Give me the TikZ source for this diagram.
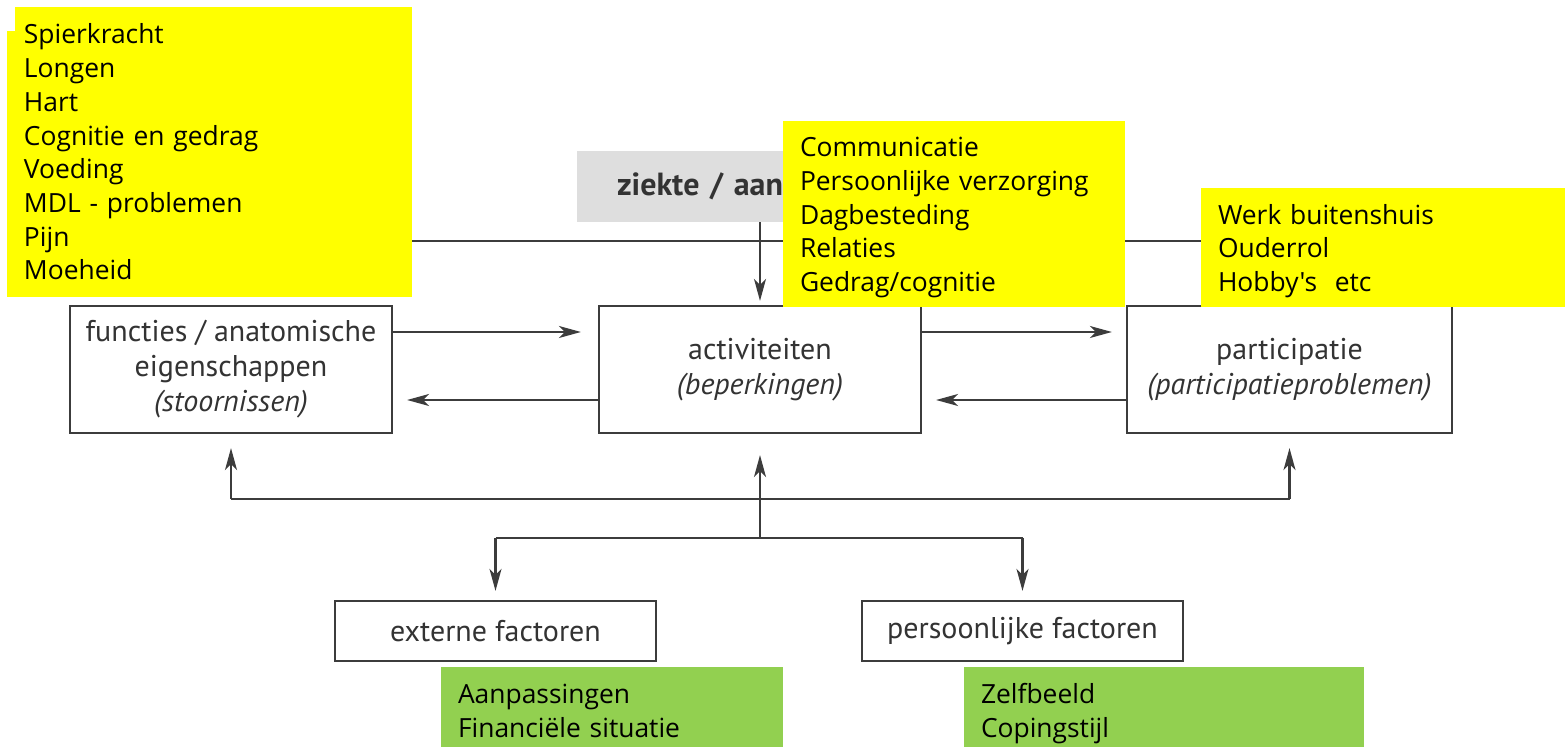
\documentclass[tikz,border=0pt]{standalone}
\usepackage{fontspec}
\setmainfont{Open Sans}
\newfontfamily\notefont{Open Sans}
\newfontfamily\diagfont{PT Sans}
\usetikzlibrary{arrows.meta}
\definecolor{hlyellow}{HTML}{FFFF00}
\definecolor{hlgreen}{HTML}{92D050}
\definecolor{linegray}{HTML}{3C3C3C}
\definecolor{txtgray}{HTML}{333333}
\definecolor{boxgray}{HTML}{DEDEDE}
\newcommand{\toppad}{\rule{0pt}{13.4pt}}
\begin{document}
\begin{tikzpicture}[x=0.5pt,y=-0.5pt,
  box/.style={draw=linegray, line width=1.1pt, fill=white, inner sep=0pt, align=center,
    font=\diagfont\fontsize{15}{17.5}\selectfont, text=txtgray},
  arr/.style={draw=linegray, line width=1.1pt, -{Stealth[length=11pt,width=6pt,inset=3pt]}},
  ln/.style={draw=linegray, line width=1.1pt},
  note/.style={inner ysep=0pt, align=left, font=\notefont\fontsize{13.2}{16.85}\selectfont},
]
\useasboundingbox (0,0) rectangle (1565,747);
% grey disease box
\node[fill=boxgray, minimum width=183pt, minimum height=35.5pt, inner xsep=20pt, inner ysep=0pt,
  text width=143pt, align=left, text=txtgray, font=\diagfont\bfseries\fontsize{16}{16}\selectfont]
  (ziekte) at (760,186.5) {ziekte / aan};
% top line
\coordinate (tl) at (300,241);
\coordinate (tr) at (1290,241);
\draw[ln] (tl) -- (tr);
% main boxes
\node[box, minimum width=161pt, minimum height=63.5pt] (func) at (231,369.5)
  {functies / anatomische\\eigenschappen\\\textit{(stoornissen)}};
\node[box, minimum width=161pt, minimum height=63.5pt] (act) at (760,369.5)
  {activiteiten\\\textit{(beperkingen)}};
\node[box, minimum width=162.5pt, minimum height=63.5pt] (part) at (1289.5,369.5)
  {participatie\\\textit{(participatieproblemen)}};
\node[box, minimum width=160.5pt, minimum height=30pt] (ext) at (495.5,631) {externe factoren};
\node[box, minimum width=160.5pt, minimum height=30pt] (pers) at (1022.5,631) {persoonlijke factoren};
\draw[arr, shorten >=2pt] (ziekte.south) -- (act.north);
% horizontal arrows
\draw[arr, shorten >=8.5pt] ([yshift=18.75pt]func.east) -- ([yshift=18.75pt]act.west);
\draw[arr, shorten >=7pt] ([yshift=-15.25pt]act.west) -- ([yshift=-15.25pt]func.east);
\draw[arr, shorten >=7pt] ([yshift=18.75pt]act.east) -- ([yshift=18.75pt]part.west);
\draw[arr, shorten >=7pt] ([yshift=-15.25pt]part.west) -- ([yshift=-15.25pt]act.east);
% bottom tree
\coordinate (yb1) at (0,499);
\coordinate (yb2) at (0,538);
\draw[ln] (func.south |- yb1) -- (part.south |- yb1);
\draw[arr, shorten >=7pt] (func.south |- yb1) -- (func.south);
\draw[arr, shorten >=7pt] (part.south |- yb1) -- (part.south);
\draw[arr, shorten >=10.5pt] (act.south |- yb2) -- (act.south);
\draw[ln] (ext.north |- yb2) -- (pers.north |- yb2);
\draw[arr, shorten >=4.5pt] (ext.north |- yb2) -- (ext.north);
\draw[arr, shorten >=4.5pt] (pers.north |- yb2) -- (pers.north);
% highlight notes
\fill[hlyellow] (7,31) rectangle (16,297);
\node[note, fill=hlyellow, minimum width=198.5pt, minimum height=145pt, inner xsep=4.5pt, text width=189.5pt]
  (n1) at (213.5,152)
  {Spierkracht\\Longen\\Hart\\Cognitie en gedrag\\Voeding\\MDL - problemen\\Pijn\\Moeheid};
\node[note, fill=hlyellow, minimum width=171pt, minimum height=93pt, inner xsep=8.5pt, text width=154pt]
  (n2) at (954,214)
  {\toppad Communicatie\\Persoonlijke verzorging\\Dagbesteding\\Relaties\\Gedrag/cognitie};
\node[note, fill=hlyellow, minimum width=182pt, minimum height=59.5pt, inner xsep=8.5pt, text width=165pt]
  (n3) at (1383,247.5)
  {\toppad Werk buitenshuis\\Ouderrol\\Hobby's\ \ etc};
\node[note, fill=hlgreen, minimum width=171pt, minimum height=40pt, inner xsep=8.5pt, text width=154pt]
  (n4) at (612,707)
  {\toppad Aanpassingen\\Financiële situatie};
\node[note, fill=hlgreen, minimum width=200pt, minimum height=40pt, inner xsep=8.5pt, text width=183pt]
  (n5) at (1164,707)
  {\toppad Zelfbeeld\\\smash{Copingstijl}};
\end{tikzpicture}
\end{document}
